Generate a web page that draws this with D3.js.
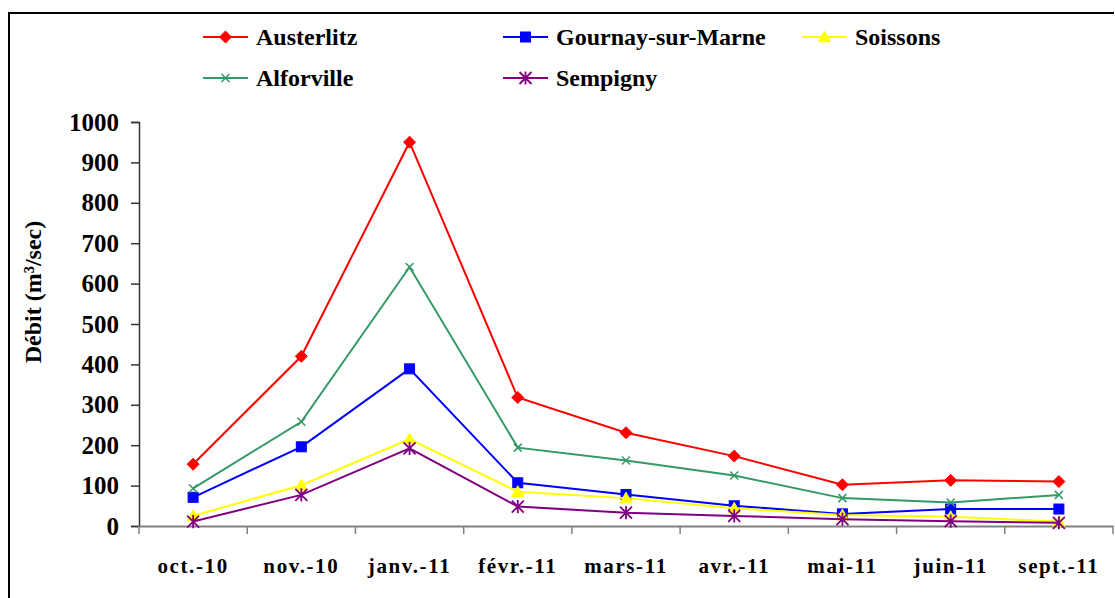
<!DOCTYPE html>
<html>
<head>
<meta charset="utf-8">
<script src="https://cdn.jsdelivr.net/npm/d3@7/dist/d3.min.js"></script>
<style>
  html, body { margin: 0; padding: 0; background: #fff; }
  svg { display: block; }
  text { font-family: "Liberation Serif", "Times New Roman", serif; font-weight: bold; fill: #000; }
</style>
</head>
<body>
<svg id="chart" width="1115" height="598"></svg>
<script>
// ---- data ----
const categories = ["oct.-10", "nov.-10", "janv.-11", "févr.-11", "mars-11", "avr.-11", "mai-11", "juin-11", "sept.-11"];
const seriesNames = ["Austerlitz", "Gournay-sur-Marne", "Soissons", "Alforville", "Sempigny"];
const austerlitz = [153, 420, 950, 318, 231, 173, 102, 113, 110];
const gournay    = [71, 196, 389, 107, 78, 50, 30, 42, 42];
const soissons   = [25, 101, 215, 85, 69, 44, 27, 23, 11];
const alforville = [93, 258, 641, 194, 162, 125, 69, 58, 77];
const sempigny   = [11, 77, 192, 48, 33, 25, 17, 12, 8];
const yTicks = [0, 100, 200, 300, 400, 500, 600, 700, 800, 900, 1000];
const yTitle = "Débit (m³/sec)";

const seriesValues = [austerlitz, gournay, soissons, alforville, sempigny];
const colors = ["#ff0000", "#0000ff", "#ffff00", "#339966", "#800080"];
const markers = ["diamond", "square", "triangle", "x", "star"];

const svg = d3.select("#chart");

// outer frame (top and left edges visible)
svg.append("path")
  .attr("d", "M9,598 L9,13 L1114,13")
  .attr("fill", "none").attr("stroke", "#000").attr("stroke-width", 2);

const x = d3.scaleBand().domain(categories).range([139, 1113]).padding(0);
const y = d3.scaleLinear().domain([0, 1000]).range([526, 122]);
const cx = c => x(c) + x.bandwidth() / 2;

// y axis
const yAxis = d3.axisLeft(y).tickValues(yTicks).tickSize(8).tickPadding(12).tickFormat(d3.format("d"));
const gy = svg.append("g").attr("transform", "translate(139,0)").call(yAxis);
gy.select(".domain").attr("stroke", "#333").attr("stroke-width", 1.5);
gy.selectAll(".tick line").attr("stroke", "#333").attr("stroke-width", 1.5);
gy.selectAll(".tick text").attr("font-size", 25).attr("font-family", "Liberation Serif").attr("font-weight", "bold").attr("fill", "#000");

// x axis (labels centered; ticks at category boundaries)
const xAxis = d3.axisBottom(x).tickSize(0).tickPadding(32);
const gx = svg.append("g").attr("transform", "translate(0,526)").call(xAxis);
gx.select(".domain").attr("stroke", "#808080").attr("stroke-width", 2);
gx.selectAll(".tick text").attr("font-size", 21).attr("letter-spacing", 1.6)
  .attr("font-family", "Liberation Serif").attr("font-weight", "bold").attr("fill", "#000");
const edges = categories.map(c => x(c)).concat([x.range()[1]]);
gx.selectAll(".edge").data(edges).enter().append("line")
  .attr("class", "edge")
  .attr("x1", d => d).attr("x2", d => d).attr("y1", 0).attr("y2", 8)
  .attr("stroke", "#808080").attr("stroke-width", 1.5);

// y title
svg.append("text")
  .attr("transform", "translate(41,292) rotate(-90)")
  .attr("text-anchor", "middle")
  .attr("font-size", 24)
  .text(yTitle);

// marker drawing
function drawMarker(g, type, color, px, py) {
  if (type === "diamond") {
    const r = 6;
    g.append("path").attr("d", `M${px},${py - r}L${px + r},${py}L${px},${py + r}L${px - r},${py}Z`)
      .attr("fill", color).attr("stroke", color);
  } else if (type === "square") {
    const r = 5;
    g.append("rect").attr("x", px - r).attr("y", py - r).attr("width", 2 * r).attr("height", 2 * r)
      .attr("fill", color).attr("stroke", color);
  } else if (type === "triangle") {
    const r = 6;
    g.append("path").attr("d", `M${px},${py - r}L${px + r},${py + r * 0.8}L${px - r},${py + r * 0.8}Z`)
      .attr("fill", color).attr("stroke", color);
  } else if (type === "x") {
    const r = 4;
    g.append("path").attr("d", `M${px - r},${py - r}L${px + r},${py + r}M${px - r},${py + r}L${px + r},${py - r}`)
      .attr("stroke", color).attr("stroke-width", 1.5).attr("fill", "none");
  } else if (type === "star") {
    const r = 6;
    g.append("path").attr("d",
      `M${px - r},${py - r}L${px + r},${py + r}M${px - r},${py + r}L${px + r},${py - r}M${px},${py - r * 1.1}L${px},${py + r * 1.1}`)
      .attr("stroke", color).attr("stroke-width", 1.8).attr("fill", "none");
  }
}

// series draw order: Austerlitz, Gournay, Soissons, Alforville, Sempigny
const line = d3.line().x((d, i) => cx(categories[i])).y(d => y(d));
seriesValues.forEach((vals, s) => {
  const g = svg.append("g");
  g.append("path").datum(vals).attr("d", line)
    .attr("fill", "none").attr("stroke", colors[s]).attr("stroke-width", 2);
  vals.forEach((v, i) => drawMarker(g, markers[s], colors[s], cx(categories[i]), y(v)));
});

// legend
const legendPos = [[203, 37], [503, 37], [802, 37], [203, 78], [503, 78]];
seriesNames.forEach((name, s) => {
  const [lx, ly] = legendPos[s];
  const g = svg.append("g");
  g.append("line").attr("x1", lx).attr("x2", lx + 45).attr("y1", ly).attr("y2", ly)
    .attr("stroke", colors[s]).attr("stroke-width", 2);
  drawMarker(g, markers[s], colors[s], lx + 22.5, ly);
  g.append("text").attr("x", lx + 53).attr("y", ly).attr("dy", "0.35em")
    .attr("font-size", 24).text(name);
});
</script>
</body>
</html>
